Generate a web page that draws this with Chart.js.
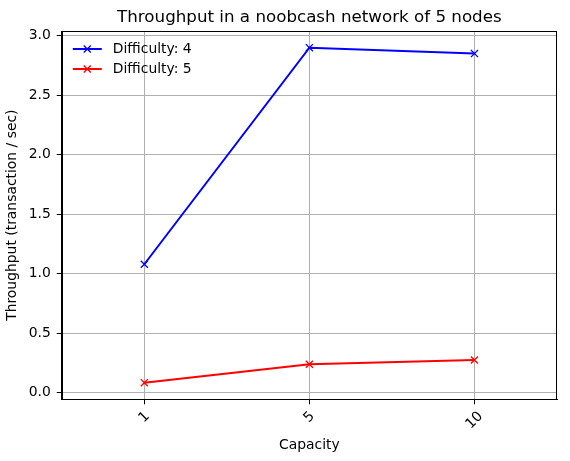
<!DOCTYPE html>
<html>
<head>
<meta charset="utf-8">
<script src="https://cdn.jsdelivr.net/npm/chart.js@4.4.0/dist/chart.umd.min.js"></script>
<style>
  html, body { margin: 0; padding: 0; background: #fff; }
  #wrap { width: 570px; height: 461px; position: relative; }
</style>
</head>
<body>
<div id="wrap"><canvas id="chart"></canvas></div>
<script>
const capacities = ['1', '5', '10'];
const difficulty4 = [1.08, 2.90, 2.85];
const difficulty5 = [0.085, 0.24, 0.275];
const seriesNames = ['Difficulty: 4', 'Difficulty: 5'];
const seriesColors = ['#0000ff', '#ff0000'];
const yTickValues = [0, 0.5, 1.0, 1.5, 2.0, 2.5, 3.0];
const chartTitle = 'Throughput in a noobcash network of 5 nodes';
const xTitle = 'Capacity';
const yTitle = 'Throughput (transaction / sec)';

const FONT = 'DejaVu Sans';
const SMALL = 13.9;   // 10pt at 100 dpi
const BIG = 16.7;     // 12pt

// matplotlib-ish bits chart.js doesn't do by itself
const mplLook = {
    id: 'mplLook',
    afterDraw(chart) {
        const ctx = chart.ctx;
        const a = chart.chartArea;
        ctx.save();

        // full frame
        ctx.strokeStyle = '#000';
        ctx.lineWidth = 1;
        ctx.strokeRect(Math.round(a.left) + 0.5, Math.round(a.top) + 0.5,
            Math.round(a.right - a.left) - 1, Math.round(a.bottom - a.top));

        // title centred over the axes
        ctx.fillStyle = '#000';
        ctx.font = BIG + 'px "' + FONT + '"';
        ctx.textAlign = 'center';
        ctx.textBaseline = 'middle';
        ctx.fillText(chartTitle, (a.left + a.right) / 2, a.top - 13);

        // x tick labels, rotated 45 and centred under the tick
        const xs = chart.scales.x;
        ctx.font = SMALL + 'px "' + FONT + '"';
        capacities.forEach((lab, i) => {
            const x = xs.getPixelForTick(i);
            const w = ctx.measureText(lab).width;
            const h = SMALL;
            const boxH = (w + h) * Math.SQRT1_2;
            ctx.save();
            ctx.translate(x, a.bottom + 5 + 5 + boxH / 2);
            ctx.rotate(-Math.PI / 4);
            ctx.textAlign = 'center';
            ctx.textBaseline = 'middle';
            ctx.fillText(lab, 0, 0);
            ctx.restore();
        });

        // legend, no frame, upper left
        chart.data.datasets.forEach((ds, i) => {
            const y = a.top + 18 + i * 20;
            const x0 = a.left + 11;
            ctx.strokeStyle = ds.borderColor;
            ctx.lineWidth = 2;
            ctx.beginPath();
            ctx.moveTo(x0, y);
            ctx.lineTo(x0 + 29, y);
            ctx.stroke();
            const cx = x0 + 14.5, r = 3.5;
            ctx.lineWidth = 1.3;
            ctx.beginPath();
            ctx.moveTo(cx - r, y - r); ctx.lineTo(cx + r, y + r);
            ctx.moveTo(cx - r, y + r); ctx.lineTo(cx + r, y - r);
            ctx.stroke();
            ctx.fillStyle = '#000';
            ctx.textAlign = 'left';
            ctx.textBaseline = 'middle';
            ctx.fillText(ds.label, x0 + 40, y);
        });
        ctx.restore();
    }
};

document.addEventListener('DOMContentLoaded', function () {
    const ctx = document.getElementById('chart').getContext('2d');

    new Chart(ctx, {
        type: 'line',
        data: {
            labels: capacities,
            datasets: [
                {
                    label: seriesNames[0],
                    data: difficulty4,
                    borderColor: seriesColors[0],
                    backgroundColor: seriesColors[0],
                    borderWidth: 2,
                    pointStyle: 'crossRot',
                    pointRadius: 5,
                    pointBorderWidth: 1.3,
                    tension: 0
                },
                {
                    label: seriesNames[1],
                    data: difficulty5,
                    borderColor: seriesColors[1],
                    backgroundColor: seriesColors[1],
                    borderWidth: 2,
                    pointStyle: 'crossRot',
                    pointRadius: 5,
                    pointBorderWidth: 1.3,
                    tension: 0
                }
            ]
        },
        options: {
            responsive: true,
            maintainAspectRatio: false,
            animation: false,
            layout: {
                padding: { top: 31, right: 13, bottom: 0, left: 4 }
            },
            plugins: {
                legend: { display: false },
                title: { display: false },
                tooltip: { enabled: false }
            },
            scales: {
                x: {
                    type: 'category',
                    offset: true,
                    grid: {
                        color: '#b0b0b0',
                        lineWidth: 1,
                        tickColor: '#000',
                        tickLength: 5,
                        offset: false
                    },
                    border: { color: '#000', width: 1 },
                    ticks: { display: false },
                    title: {
                        display: true,
                        text: xTitle,
                        color: '#000',
                        font: { family: FONT, size: SMALL },
                        padding: { top: 33, bottom: 7 }
                    }
                },
                y: {
                    min: -0.055,
                    max: 3.04,
                    afterBuildTicks: function (scale) {
                        scale.ticks = yTickValues.map(v => ({ value: v }));
                    },
                    grid: {
                        color: '#b0b0b0',
                        lineWidth: 1,
                        tickColor: '#000',
                        tickLength: 5
                    },
                    border: { color: '#000', width: 1 },
                    ticks: {
                        color: '#000',
                        padding: 6,
                        font: { family: FONT, size: SMALL },
                        callback: v => v.toFixed(1)
                    },
                    title: {
                        display: true,
                        text: yTitle,
                        color: '#000',
                        font: { family: FONT, size: SMALL },
                        padding: { top: 0, bottom: 2 }
                    }
                }
            }
        },
        plugins: [mplLook]
    });
});
</script>
</body>
</html>
